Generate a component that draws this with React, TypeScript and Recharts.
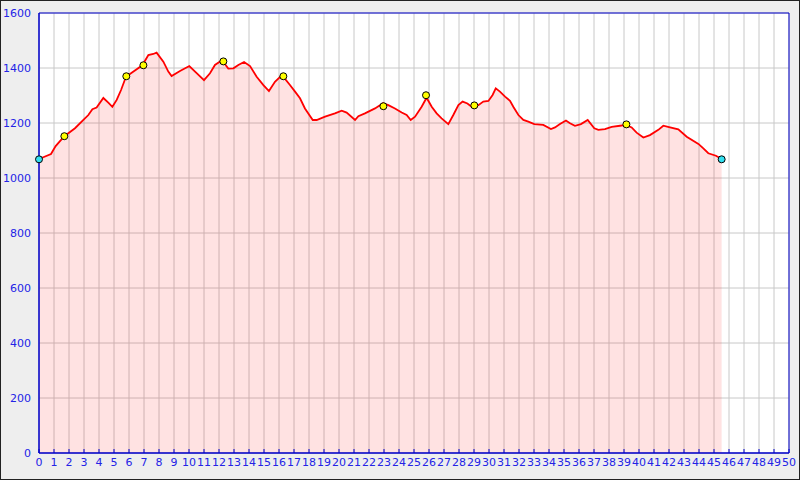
import { ComposedChart, Area, Scatter, XAxis, YAxis, CartesianGrid, ReferenceArea } from 'recharts';

// elevation profile (km, m)
const profileKm = [
  0, 0.8, 1.11, 1.69, 2.4, 2.96, 3.29, 3.56, 3.84, 4.29, 4.62, 4.89, 5.18, 5.47, 5.8, 6.18, 6.89, 7.29, 7.62, 7.84,
  8.29, 8.62, 8.84, 9.4, 10.02, 10.51, 11.0, 11.4, 11.73, 12.2, 12.62, 12.96, 13.29, 13.67, 14.07, 14.51, 14.96,
  15.33, 15.73, 16.2, 16.73, 17.07, 17.4, 17.73, 18.25, 18.51, 19.07, 19.73, 20.18, 20.51, 21.07, 21.29, 21.73,
  22.4, 22.93, 23.29, 23.73, 24.18, 24.51, 24.78, 25.07, 25.51, 25.84, 26.18, 26.51, 26.84, 27.29, 27.62, 27.96,
  28.24, 28.56, 28.84, 29.02, 29.29, 29.62, 29.96, 30.24, 30.45, 30.73, 31.07, 31.4, 31.62, 31.96, 32.29, 32.62,
  33.02, 33.62, 34.13, 34.4, 34.73, 35.13, 35.4, 35.73, 36.13, 36.58, 37.02, 37.29, 37.73, 38.18, 38.73, 39.13,
  39.51, 39.84, 40.29, 40.73, 41.29, 41.62, 42.07, 42.62, 43.18, 43.96, 44.29, 44.62, 45.13, 45.51,
];
const profileElev = [
  1069, 1087, 1116, 1152, 1181, 1211, 1229, 1250, 1256, 1291, 1274, 1259, 1284, 1320, 1368, 1383, 1410, 1447, 1451, 1456,
  1423, 1387, 1371, 1389, 1407, 1381, 1356, 1381, 1411, 1428, 1398, 1399, 1411, 1422, 1407, 1368, 1338,
  1316, 1350, 1374, 1338, 1314, 1290, 1253, 1211, 1211, 1223, 1235, 1245, 1238, 1211, 1225, 1235,
  1253, 1272, 1265, 1253, 1238, 1229, 1211, 1223, 1259, 1292, 1259, 1235, 1217, 1196, 1229, 1265,
  1278, 1271, 1259, 1262, 1265, 1278, 1280, 1302, 1326, 1314, 1296, 1281, 1259, 1229, 1211, 1205,
  1196, 1193, 1178, 1184, 1196, 1209, 1199, 1190, 1196, 1211, 1181, 1175, 1178, 1186, 1190, 1193,
  1184, 1165, 1147, 1156, 1175, 1190, 1184, 1177, 1150, 1124, 1108, 1090, 1081, 1069,
];

const waypointKm = [1.69, 5.82, 6.96, 12.29, 16.29, 22.96, 25.8, 29.02, 39.16];
const waypointElev = [1152, 1370, 1410, 1424, 1370, 1261, 1301, 1264, 1195];
const endpointKm = [0, 45.51];
const endpointElev = [1068, 1068];

const xTicks = Array.from({ length: 51 }, (_, i) => i);
const yTicks = [0, 200, 400, 600, 800, 1000, 1200, 1400, 1600];

const profile = profileKm.map((x, i) => ({ x, elev: profileElev[i] }));
const waypoints = waypointKm.map((x, i) => ({ x, elev: waypointElev[i] }));
const endpoints = endpointKm.map((x, i) => ({ x, elev: endpointElev[i] }));

const axisBlue = '#0000cc';
const labelBlue = '#2323e6';

function Dot(props: any, fill: string) {
  const { cx, cy } = props;
  return <circle cx={cx} cy={cy} r={3.5} fill={fill} stroke="#000" strokeWidth={1} />;
}

function XTick(props: any) {
  const { x, payload } = props;
  return (
    <g>
      <line x1={x} x2={x} y1={453} y2={449} stroke={axisBlue} strokeWidth={1} />
      <text x={x} y={466} textAnchor="middle" fill={labelBlue} fontSize={11} fontFamily="DejaVu Sans">
        {payload.value}
      </text>
    </g>
  );
}

export default function App() {
  return (
    <div
      style={{
        width: 800,
        height: 480,
        background: '#eeeeee',
        boxShadow: 'inset 0 0 0 1px #222',
        position: 'relative',
      }}
    >
      <style>{'body{margin:0}'}</style>
      <ComposedChart
        width={800}
        height={480}
        data={profile}
        margin={{ top: 13, right: 11, bottom: 0, left: 0 }}
        style={{ fontFamily: 'DejaVu Sans' }}
      >
        <CartesianGrid fill="#ffffff" stroke="#c8c8c8" strokeWidth={1} />
        <XAxis
          dataKey="x"
          type="number"
          domain={[0, 50]}
          ticks={xTicks}
          interval={0}
          height={27}
          stroke={axisBlue}
          tickLine={false}
          tick={<XTick />}
        />
        <YAxis
          type="number"
          domain={[0, 1600]}
          ticks={yTicks}
          interval={0}
          width={39}
          stroke={axisBlue}
          tickLine={false}
          tickSize={0}
          tickMargin={8}
          tick={{ fill: labelBlue, fontSize: 11, fontFamily: 'DejaVu Sans' }}
        />
        <Area
          type="linear"
          dataKey="elev"
          stroke="#ff0000"
          strokeWidth={1.8}
          fill="#ff0000"
          fillOpacity={0.115}
          dot={false}
          activeDot={false}
          isAnimationActive={false}
        />
        <ReferenceArea x1={0} x2={50} y1={0} y2={1600} fill="none" stroke={axisBlue} strokeWidth={1} ifOverflow="visible" />
        <Scatter data={waypoints} dataKey="elev" shape={(p: any) => Dot(p, '#ffff00')} isAnimationActive={false} />
        <Scatter data={endpoints} dataKey="elev" shape={(p: any) => Dot(p, '#33e0f0')} isAnimationActive={false} />
      </ComposedChart>
    </div>
  );
}
